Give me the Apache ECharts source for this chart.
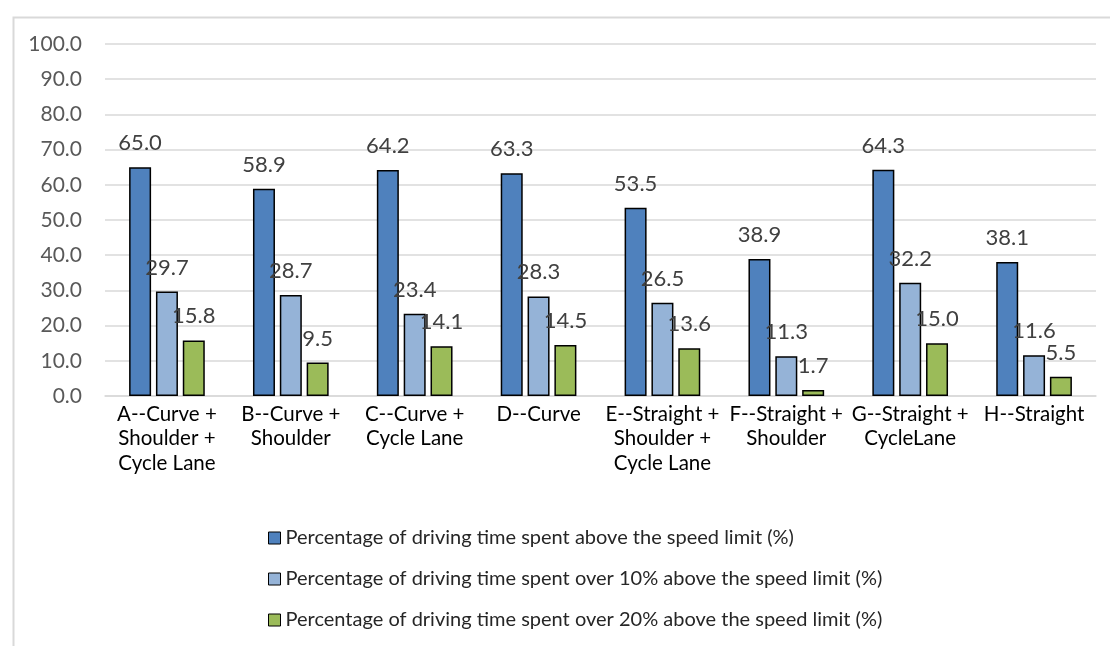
<!DOCTYPE html>
<html>
<head>
<meta charset="utf-8">
<script src="https://cdn.jsdelivr.net/npm/echarts@6/dist/echarts.min.js"></script>
<style>
  html, body { margin: 0; padding: 0; background: #ffffff; }
  #chart { width: 1110px; height: 646px; }
</style>
</head>
<body>
<div id="chart"></div>
<script>
// Road layout scenarios
const categories = [
  'A--Curve +\nShoulder +\nCycle Lane',
  'B--Curve +\nShoulder',
  'C--Curve +\nCycle Lane',
  'D--Curve',
  'E--Straight +\nShoulder +\nCycle Lane',
  'F--Straight +\nShoulder',
  'G--Straight +\nCycleLane',
  'H--Straight'
];

const seriesNames = [
  'Percentage of driving time spent above the speed limit (%)',
  'Percentage of driving time spent over 10% above the speed limit (%)',
  'Percentage of driving time spent over 20% above the speed limit (%)'
];

const aboveLimit = [65.0, 58.9, 64.2, 63.3, 53.5, 38.9, 64.3, 38.1];
const over10Pct = [29.7, 28.7, 23.4, 28.3, 26.5, 11.3, 32.2, 11.6];
const over20Pct = [15.8, 9.5, 14.1, 14.5, 13.6, 1.7, 15.0, 5.5];

const yTicks = { min: 0, max: 100, interval: 10 };

const colors = ['#4F81BD', '#95B3D7', '#9BBB59'];
const FONT = 'Lato, "Open Sans", sans-serif';

function barSeries(name, data, color) {
  return {
    name: name,
    type: 'bar',
    data: data,
    barWidth: 22,
    barGap: '22%',
    itemStyle: { color: color, borderColor: '#000000', borderWidth: 1.5 },
    label: {
      show: true,
      position: 'top',
      distance: 13,
      color: '#404040',
      fontFamily: FONT,
      fontSize: 22,
      formatter: p => p.value.toFixed(1)
    }
  };
}

const chart = echarts.init(document.getElementById('chart'), null, { renderer: 'canvas' });

chart.setOption({
  animation: false,
  backgroundColor: '#ffffff',
  color: colors,
  graphic: [{
    type: 'rect',
    left: 11,
    top: 15,
    shape: { width: 1200, height: 700 },
    style: { fill: 'none', stroke: '#d9d9d9', lineWidth: 2 },
    silent: true,
    z: -1
  }],
  grid: { left: 105, right: 14, top: 44, bottom: 250, containLabel: false },
  legend: {
    orient: 'vertical',
    left: 263,
    top: 523,
    itemWidth: 12,
    itemHeight: 12,
    itemGap: 21,
    itemTextGap: 4,
    icon: 'rect',
    data: seriesNames.map((n, i) => ({
      name: n,
      itemStyle: { color: colors[i], borderColor: '#000000', borderWidth: 1 }
    })),
    textStyle: { color: '#262626', fontFamily: FONT, fontSize: 20, lineHeight: 20 }
  },
  xAxis: {
    type: 'category',
    data: categories,
    axisLine: { show: true, lineStyle: { color: '#d9d9d9', width: 1.5 } },
    axisTick: { show: false },
    axisLabel: {
      interval: 0,
      margin: 6,
      color: '#000000',
      fontFamily: FONT,
      fontSize: 20.5,
      lineHeight: 24.5
    }
  },
  yAxis: {
    type: 'value',
    min: yTicks.min,
    max: yTicks.max,
    interval: yTicks.interval,
    axisLine: { show: false },
    axisTick: { show: false },
    splitLine: { lineStyle: { color: '#d9d9d9', width: 1.5 } },
    axisLabel: {
      margin: 23,
      color: '#595959',
      fontFamily: FONT,
      fontSize: 21,
      formatter: v => v.toFixed(1)
    }
  },
  series: [
    barSeries(seriesNames[0], aboveLimit, colors[0]),
    barSeries(seriesNames[1], over10Pct, colors[1]),
    barSeries(seriesNames[2], over20Pct, colors[2])
  ]
});
</script>
</body>
</html>
